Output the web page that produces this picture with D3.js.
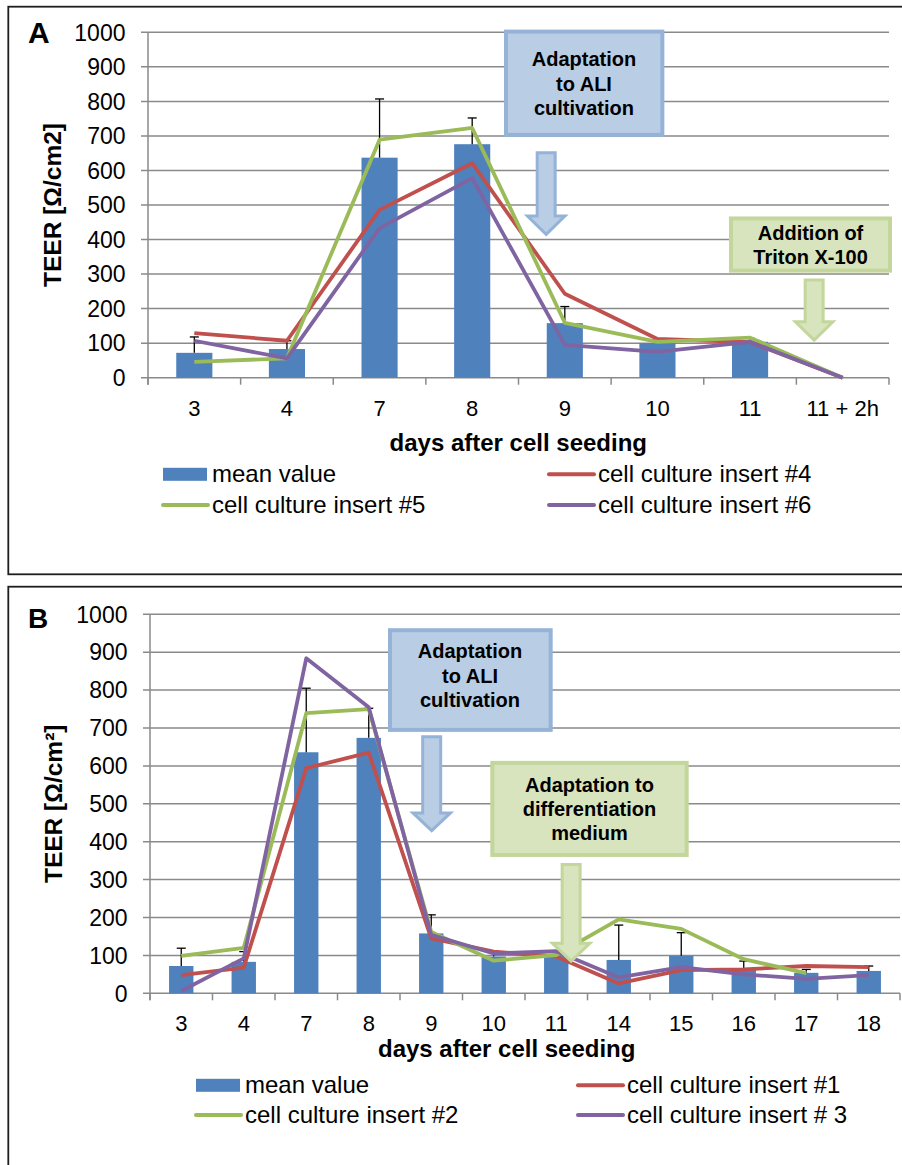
<!DOCTYPE html>
<html>
<head>
<meta charset="utf-8">
<script src="https://cdn.jsdelivr.net/npm/d3@7"></script>
<style>
  html, body { margin: 0; padding: 0; background: #fff; }
  svg { display: block; font-family: "Liberation Sans", Arial, sans-serif; }
</style>
</head>
<body>
<svg id="chart" width="902" height="1165"></svg>
<script>
// ---------------- DATA ----------------
const yTicks = [0, 100, 200, 300, 400, 500, 600, 700, 800, 900, 1000];

// Panel A
const catsA = ["3", "4", "7", "8", "9", "10", "11", "11 + 2h"];
const meanA = [72, 83, 637, 676, 158, 100, 104, 0];
const errA  = [46, 24, 170, 76, 48, 10, 10, 0];
const insert4 = [129, 107, 486, 621, 243, 112, 103, 0];
const insert5 = [46, 56, 689, 723, 159, 104, 116, 0];
const insert6 = [107, 56, 433, 578, 95, 75, 104, 0];
const legendA = ["mean value", "cell culture insert #4", "cell culture insert #5", "cell culture insert #6"];

// Panel B
const catsB = ["3", "4", "7", "8", "9", "10", "11", "14", "15", "16", "17", "18"];
const meanB = [72, 83, 636, 674, 158, 97, 100, 88, 99, 65, 54, 59];
const errB  = [47, 27, 169, 78, 49, 10, 10, 92, 61, 20, 9, 13];
const insert1 = [48, 68, 594, 635, 145, 110, 97, 26, 61, 63, 72, 69];
const insert2 = [99, 120, 739, 750, 162, 86, 101, 195, 170, 90, 53, null];
const insert3 = [6, 92, 884, 755, 154, 105, 111, 42, 69, 50, 38, 48];
const legendB = ["mean value", "cell culture insert #1", "cell culture insert #2", "cell culture insert # 3"];

// Annotations (x in category-index units, y in TEER units)
const notesA = [
  { kind: "blue", x1: 3.365, x2: 5.053, yTop: 1002, yBot: 703, cx: 4.207,
    lines: ["Adaptation", "to ALI", "cultivation"], base: [902, 831, 760],
    arrow: { cx: 3.799, top: 651, head: 468, tip: 415 } },
  { kind: "green", x1: 5.794, x2: 7.511, yTop: 461, yBot: 310, cx: 6.653,
    lines: ["Addition of", "Triton X-100"], base: [399, 328],
    arrow: { cx: 6.692, top: 283, head: 162, tip: 109 } }
];
const notesB = [
  { kind: "blue", x1: 3.34, x2: 5.911, yTop: 958, yBot: 695, cx: 4.62,
    lines: ["Adaptation", "to ALI", "cultivation"], base: [884, 819, 755],
    arrow: { cx: 4.007, top: 677, head: 476, tip: 429 } },
  { kind: "green", x1: 4.977, x2: 8.087, yTop: 608, yBot: 365, cx: 6.532,
    lines: ["Adaptation to", "differentiation", "medium"], base: [532, 468, 404],
    arrow: { cx: 6.238, top: 340, head: 132, tip: 85 } }
];

// ---------------- STYLE ----------------
const C = { bar: "#4F81BD", red: "#C0504D", green: "#9BBB59", purple: "#8064A2",
  grid: "#8a8a8a", blueFill: "#B9CDE5", blueEdge: "#95B3D7",
  greenFill: "#D7E4BD", greenEdge: "#C3D69B" };

const svg = d3.select("#chart");

function panel(cfg) {
  const g = svg.append("g");
  // frame
  g.append("rect").attr("x", cfg.frame[0]).attr("y", cfg.frame[1])
    .attr("width", cfg.frame[2]).attr("height", cfg.frame[3])
    .attr("fill", "none").attr("stroke", "#1e1e1e").attr("stroke-width", 1.8);

  const x = d3.scaleBand().domain(cfg.cats).range([cfg.left, cfg.right]).paddingInner(0).paddingOuter(0);
  const xi = d3.scaleLinear().domain([-0.5, cfg.cats.length - 0.5]).range([cfg.left, cfg.right]);
  const y = d3.scaleLinear().domain([0, 1000]).range([cfg.bottom, cfg.top]);
  const bw = x.bandwidth();

  // gridlines + y ticks
  g.append("g").selectAll("line").data(yTicks).join("line")
    .attr("x1", cfg.left - 7).attr("x2", cfg.right)
    .attr("y1", d => y(d)).attr("y2", d => y(d))
    .attr("stroke", C.grid).attr("stroke-width", 1.5);
  // y axis line
  g.append("line").attr("x1", cfg.left).attr("x2", cfg.left)
    .attr("y1", cfg.top).attr("y2", cfg.bottom + 7)
    .attr("stroke", C.grid).attr("stroke-width", 1.5);
  // x ticks at band boundaries
  const bounds = cfg.cats.map(c => x(c)).concat([cfg.right]);
  g.append("g").selectAll("line").data(bounds).join("line")
    .attr("x1", d => d).attr("x2", d => d)
    .attr("y1", cfg.bottom).attr("y2", cfg.bottom + 7)
    .attr("stroke", C.grid).attr("stroke-width", 1.5);

  // y tick labels
  g.append("g").selectAll("text").data(yTicks).join("text")
    .attr("x", cfg.left - 22.5).attr("y", d => y(d)).attr("dy", "0.36em")
    .attr("text-anchor", "end").attr("font-size", 23).attr("fill", "#000")
    .text(d => d);
  // x tick labels
  g.append("g").selectAll("text").data(cfg.cats).join("text")
    .attr("x", d => x(d) + bw / 2).attr("y", cfg.bottom + 38)
    .attr("text-anchor", "middle").attr("font-size", 22).attr("fill", "#000")
    .text(d => d);

  // bars
  const barW = bw * 0.39;
  g.append("g").selectAll("rect").data(cfg.mean).join("rect")
    .attr("x", (d, i) => x(cfg.cats[i]) + (bw - barW) / 2)
    .attr("width", barW)
    .attr("y", d => y(d)).attr("height", d => cfg.bottom - y(d))
    .attr("fill", C.bar);

  // error bars
  const eg = g.append("g").attr("stroke", "#000").attr("stroke-width", 1.3);
  cfg.mean.forEach((m, i) => {
    if (!cfg.err[i]) return;
    const cx = x(cfg.cats[i]) + bw / 2;
    eg.append("line").attr("x1", cx).attr("x2", cx).attr("y1", y(m)).attr("y2", y(m + cfg.err[i]));
    eg.append("line").attr("x1", cx - 4.5).attr("x2", cx + 4.5).attr("y1", y(m + cfg.err[i])).attr("y2", y(m + cfg.err[i]));
  });

  // lines
  const line = d3.line()
    .defined(d => d != null)
    .x((d, i) => x(cfg.cats[i]) + bw / 2)
    .y(d => y(d));
  cfg.series.forEach(s => {
    g.append("path").datum(s.values).attr("d", line)
      .attr("fill", "none").attr("stroke", s.color).attr("stroke-width", 3.8)
      .attr("stroke-linejoin", "round");
  });

  // annotations
  cfg.notes.forEach(n => {
    const fill = n.kind === "blue" ? C.blueFill : C.greenFill;
    const edge = n.kind === "blue" ? C.blueEdge : C.greenEdge;
    g.append("rect").attr("x", xi(n.x1)).attr("y", y(n.yTop))
      .attr("width", xi(n.x2) - xi(n.x1)).attr("height", y(n.yBot) - y(n.yTop))
      .attr("fill", fill).attr("stroke", edge).attr("stroke-width", 4);
    n.lines.forEach((t, k) => {
      g.append("text").attr("x", xi(n.cx)).attr("y", y(n.base[k]))
        .attr("text-anchor", "middle").attr("font-size", 20).attr("font-weight", "bold")
        .attr("fill", "#000").text(t);
    });
    const a = n.arrow, cx = xi(a.cx), sw = 9, hw = 18.75;
    const pts = [[cx - sw, y(a.top)], [cx + sw, y(a.top)], [cx + sw, y(a.head)], [cx + hw, y(a.head)],
      [cx, y(a.tip)], [cx - hw, y(a.head)], [cx - sw, y(a.head)]];
    g.append("path").attr("d", "M" + pts.map(p => p.join(",")).join("L") + "Z")
      .attr("fill", fill).attr("stroke", edge).attr("stroke-width", 3).attr("stroke-linejoin", "miter");
  });

  // axis titles
  g.append("text").attr("x", cfg.xTitleX).attr("y", cfg.xTitleY)
    .attr("text-anchor", "middle").attr("font-size", 24).attr("font-weight", "bold")
    .text("days after cell seeding");
  g.append("text")
    .attr("transform", `translate(${cfg.yTitleX},${(cfg.top + cfg.bottom) / 2}) rotate(-90)`)
    .attr("text-anchor", "middle").attr("font-size", 24.5).attr("font-weight", "bold")
    .text(cfg.yTitle);
  // panel letter
  g.append("text").attr("x", 28).attr("y", cfg.letterY)
    .attr("font-size", cfg.letterSize).attr("font-weight", "bold").text(cfg.letter);

  // legend
  const L = cfg.legend;
  const items = [
    { name: cfg.legendNames[0], type: "rect", color: C.bar, col: 0, row: 0 },
    { name: cfg.legendNames[1], type: "line", color: C.red, col: 1, row: 0 },
    { name: cfg.legendNames[2], type: "line", color: C.green, col: 0, row: 1 },
    { name: cfg.legendNames[3], type: "line", color: C.purple, col: 1, row: 1 }
  ];
  items.forEach(it => {
    const sx = L.cols[it.col], cy = L.rows[it.row];
    if (it.type === "rect") {
      g.append("rect").attr("x", sx + 1).attr("y", cy - 6.5).attr("width", 44).attr("height", 13).attr("fill", it.color);
    } else {
      g.append("line").attr("x1", sx + 1).attr("x2", sx + 46).attr("y1", cy).attr("y2", cy)
        .attr("stroke", it.color).attr("stroke-width", 4).attr("stroke-linecap", "round");
    }
    g.append("text").attr("x", sx + 50).attr("y", cy + 7.8)
      .attr("font-size", 24).attr("fill", "#000").text(it.name);
  });
}

panel({
  frame: [8.3, 6.7, 900, 567.6],
  cats: catsA, mean: meanA, err: errA,
  left: 148, right: 889, top: 32.3, bottom: 377.7,
  series: [
    { values: insert4, color: C.red },
    { values: insert5, color: C.green },
    { values: insert6, color: C.purple }
  ],
  notes: notesA,
  xTitleX: 518.3, xTitleY: 451,
  yTitleX: 61, yTitle: "TEER [Ω/cm2]",
  letter: "A", letterY: 43.3, letterSize: 30,
  legendNames: legendA,
  legend: { cols: [162, 548], rows: [474.3, 505] }
});

panel({
  frame: [8.3, 586.7, 900, 600],
  cats: catsB, mean: meanB, err: errB,
  left: 150, right: 900, top: 614.3, bottom: 993.3,
  series: [
    { values: insert1, color: C.red },
    { values: insert2, color: C.green },
    { values: insert3, color: C.purple }
  ],
  notes: notesB,
  xTitleX: 506.7, xTitleY: 1057.3,
  yTitleX: 61.5, yTitle: "TEER [Ω/cm²]",
  letter: "B", letterY: 627.5, letterSize: 28,
  legendNames: legendB,
  legend: { cols: [195, 577], rows: [1085.3, 1115] }
});
</script>
</body>
</html>
